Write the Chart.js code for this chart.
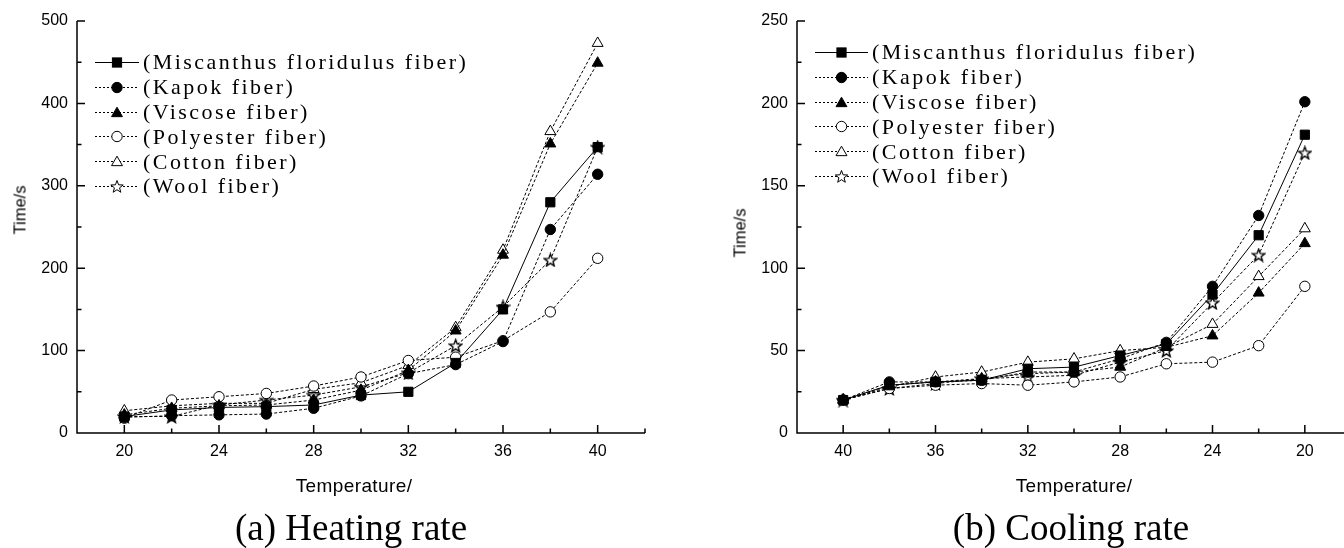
<!DOCTYPE html>
<html>
<head>
<meta charset="utf-8">
<script src="https://cdn.jsdelivr.net/npm/chart.js@4.4.1/dist/chart.umd.min.js"></script>
<style>
  body { margin: 0; background: #fff; }
  #page { position: relative; width: 1344px; height: 548px; overflow: hidden; background: #fff; }
  #page canvas { position: absolute; top: 0; }
  .ytitle { position: absolute; font: 16.5px "Liberation Sans", Arial, sans-serif; white-space: nowrap;
            transform: translate(-50%, -50%) rotate(-90deg); }
  .xtitle { position: absolute; font: 19px "Liberation Sans", Arial, sans-serif; letter-spacing: 0.4px; white-space: nowrap;
            transform: translate(-50%, -50%); }
  .caption { position: absolute; font: 37px "Liberation Serif", "Times New Roman", serif; white-space: nowrap;
             transform: translate(-50%, -50%); }
  .legend { position: absolute; font: 22px "Liberation Serif", serif; letter-spacing: 2.45px; }
  .legend .row { height: 24.8px; display: flex; align-items: center; white-space: nowrap; }
  .legend svg { flex: none; }
</style>
</head>
<body>
<div id="page">
  <canvas id="heatChart" width="680" height="548" style="left:0px"></canvas>
  <canvas id="coolChart" width="680" height="548" style="left:720px"></canvas>
  <div class="ytitle" style="left:20px; top:210px">Time/s</div>
  <div class="ytitle" style="left:740px; top:233px">Time/s</div>
  <div class="xtitle" style="left:354px; top:486px">Temperature/</div>
  <div class="xtitle" style="left:1074px; top:486px">Temperature/</div>
  <div class="caption" style="left:351px; top:527px">(a) Heating rate</div>
  <div class="caption" style="left:1071px; top:527px">(b) Cooling rate</div>
  <div class="legend" id="heatLegend" style="left:95px; top:50px"></div>
  <div class="legend" id="coolLegend" style="left:815px; top:40px"></div>
</div>
<script>
// series names (legend order)
const seriesNames = [
  "(Miscanthus floridulus fiber)",
  "(Kapok fiber)",
  "(Viscose fiber)",
  "(Polyester fiber)",
  "(Cotton fiber)",
  "(Wool fiber)"
];

// heating: temperature goes 20 -> 40
const heatTemps = [20, 22, 24, 26, 28, 30, 32, 34, 36, 38, 40];
const heatMiscanthus = [20, 28, 31, 32, 34, 46, 50, 85, 150, 280, 347];
const heatKapok = [19, 21, 22, 23, 30, 45, 72, 83, 111, 247, 314];
const heatViscose = [22, 30, 33, 34, 40, 52, 76, 124, 216, 351, 449];
const heatPolyester = [18, 40, 44, 48, 57, 68, 88, 92, 112, 147, 212];
const heatCotton = [27, 33, 36, 36, 53, 61, 82, 128, 222, 366, 473];
const heatWool = [20, 20, 34, 40, 46, 56, 73, 106, 153, 210, 347];

// cooling: temperature goes 40 -> 20
const coolTemps = [40, 38, 36, 34, 32, 30, 28, 26, 24, 22, 20];
const coolMiscanthus = [20, 29, 31, 32, 39, 40, 47, 54, 84, 120, 181];
const coolKapok = [20, 31, 31, 32, 37, 37, 45, 55, 89, 132, 201];
const coolViscose = [20, 29, 31, 33, 36, 37, 40, 52, 59, 85, 115];
const coolPolyester = [20, 27, 29, 30, 29, 31, 34, 42, 43, 53, 89];
const coolCotton = [20, 28, 34, 37, 43, 45, 50, 52, 66, 95, 124];
const coolWool = [20, 27, 30, 33, 34, 35, 43, 50, 79, 108, 170];

// axis ticks
const xLabels = [20, 24, 28, 32, 36, 40];
const xMinor = [22, 26, 30, 34, 38, 42];
const heatYLabels = [0, 100, 200, 300, 400, 500];
const heatYMinor = [50, 150, 250, 350, 450];
const coolYLabels = [0, 50, 100, 150, 200, 250];
const coolYMinor = [25, 75, 125, 175, 225];

// marker looks, one per series
const markerShapes = ["rect", "circle", "triangle", "circle", "triangle", "star"];
const markerFilled = [true, true, true, false, false, false];
const markerRadius = { rect: 6.5, circle: 5.2, triangle: 6.3, star: 7 };

// small 5 point star, Chart.js has no such point style
function makeStar(size) {
  const c = document.createElement("canvas");
  c.width = size; c.height = size;
  const g = c.getContext("2d");
  const cx = size / 2, cy = size / 2 + 0.6, ro = size / 2 - 1, ri = ro * 0.42;
  g.beginPath();
  for (let i = 0; i < 10; i++) {
    const r = i % 2 ? ri : ro;
    const a = -Math.PI / 2 + i * Math.PI / 5;
    g.lineTo(cx + r * Math.cos(a), cy + r * Math.sin(a));
  }
  g.closePath();
  g.fillStyle = "#fff"; g.fill();
  g.strokeStyle = "#000"; g.lineWidth = 1.4; g.stroke();
  return c;
}
const starImg = makeStar(15);

function buildDatasets(temps, seriesList) {
  return seriesList.map((vals, i) => {
    const shape = markerShapes[i];
    return {
      label: seriesNames[i],
      data: vals.map((v, k) => ({ x: temps[k], y: v })),
      borderColor: "#000",
      borderWidth: 1,
      borderDash: i === 0 ? [] : [3, 2],
      pointStyle: shape === "star" ? starImg : shape,
      pointRadius: markerRadius[shape],
      pointBackgroundColor: markerFilled[i] ? "#000" : "#fff",
      pointBorderColor: "#000",
      pointBorderWidth: 1,
      tension: 0,
      fill: false
    };
  });
}

// Origin style axes: L shaped, ticks pointing inward
const originAxes = {
  id: "originAxes",
  beforeDatasetsDraw(chart, args, opts) {
    const { ctx, chartArea: a, scales: { x, y } } = chart;
    ctx.save();
    ctx.strokeStyle = "#000";
    ctx.lineWidth = 1.5;
    ctx.beginPath();
    ctx.moveTo(a.left, a.top);
    ctx.lineTo(a.left, a.bottom);
    ctx.lineTo(a.right, a.bottom);
    opts.xMajor.forEach(v => { const p = x.getPixelForValue(v); ctx.moveTo(p, a.bottom); ctx.lineTo(p, a.bottom - 8); });
    opts.xMinor.forEach(v => { const p = x.getPixelForValue(v); ctx.moveTo(p, a.bottom); ctx.lineTo(p, a.bottom - 4.5); });
    opts.yMajor.forEach(v => { const p = y.getPixelForValue(v); ctx.moveTo(a.left, p); ctx.lineTo(a.left + 8, p); });
    opts.yMinor.forEach(v => { const p = y.getPixelForValue(v); ctx.moveTo(a.left, p); ctx.lineTo(a.left + 4.5, p); });
    ctx.stroke();
    ctx.restore();
  }
};

function makeChart(id, temps, seriesList, yLabels, yMinor, yMax, reverse, padRight) {
  return new Chart(document.getElementById(id), {
    type: "line",
    data: { datasets: buildDatasets(temps, seriesList) },
    plugins: [originAxes],
    options: {
      responsive: false,
      animation: false,
      devicePixelRatio: 1,
      layout: { padding: { top: 21, right: padRight, bottom: 0, left: 0 } },
      plugins: {
        legend: { display: false },
        tooltip: { enabled: false },
        originAxes: { xMajor: xLabels, xMinor: xMinor, yMajor: yLabels, yMinor: yMinor }
      },
      scales: {
        x: {
          type: "linear",
          min: 18,
          max: 42,
          reverse: reverse,
          afterBuildTicks: s => { s.ticks = xLabels.map(v => ({ value: v })); },
          afterFit: s => { s.height = 115; },
          grid: { display: false, drawTicks: false },
          border: { display: false },
          ticks: { color: "#000", padding: 9, font: { family: "Liberation Sans", size: 16 } }
        },
        y: {
          min: 0,
          max: yMax,
          afterBuildTicks: s => { s.ticks = yLabels.map(v => ({ value: v })); },
          afterFit: s => { s.width = 77; },
          grid: { display: false, drawTicks: false },
          border: { display: false },
          ticks: { color: "#000", padding: 9, font: { family: "Liberation Sans", size: 16 } }
        }
      }
    }
  });
}

makeChart("heatChart", heatTemps,
  [heatMiscanthus, heatKapok, heatViscose, heatPolyester, heatCotton, heatWool],
  heatYLabels, heatYMinor, 500, false, 35);
makeChart("coolChart", coolTemps,
  [coolMiscanthus, coolKapok, coolViscose, coolPolyester, coolCotton, coolWool],
  coolYLabels, coolYMinor, 250, true, 49);

// legend: line sample with marker, then the name as text
function markerSvg(i, cx) {
  const shape = markerShapes[i];
  const fill = markerFilled[i] ? "#000" : "#fff";
  const cy = 12.5;
  if (shape === "rect") return `<rect x="${cx - 4.6}" y="${cy - 4.6}" width="9.2" height="9.2" fill="${fill}" stroke="#000"/>`;
  if (shape === "circle") return `<circle cx="${cx}" cy="${cy}" r="5.2" fill="${fill}" stroke="#000"/>`;
  if (shape === "triangle") {
    const r = 6.3;
    const pts = [0, 1, 2].map(k => {
      const a = -Math.PI / 2 + k * 2 * Math.PI / 3;
      return (cx + r * Math.cos(a)).toFixed(2) + "," + (cy + 1 + r * Math.sin(a)).toFixed(2);
    }).join(" ");
    return `<polygon points="${pts}" fill="${fill}" stroke="#000"/>`;
  }
  const pts = [];
  for (let k = 0; k < 10; k++) {
    const r = k % 2 ? 2.7 : 6.5;
    const a = -Math.PI / 2 + k * Math.PI / 5;
    pts.push((cx + r * Math.cos(a)).toFixed(2) + "," + (cy + 0.5 + r * Math.sin(a)).toFixed(2));
  }
  return `<polygon points="${pts.join(" ")}" fill="#fff" stroke="#000"/>`;
}

function fillLegend(id, sampleLen) {
  const box = document.getElementById(id);
  const mid = sampleLen / 2;
  seriesNames.forEach((name, i) => {
    const row = document.createElement("div");
    row.className = "row";
    const dash = i === 0 ? "" : ' stroke-dasharray="2,2"';
    row.innerHTML = `<svg width="${sampleLen + 4}" height="25"><line x1="0" y1="12.5" x2="${sampleLen}" y2="12.5" stroke="#000" stroke-width="1"${dash}/>${markerSvg(i, mid)}</svg>`;
    const label = document.createElement("span");
    label.textContent = name;
    row.appendChild(label);
    box.appendChild(row);
  });
}
fillLegend("heatLegend", 44);
fillLegend("coolLegend", 53);
</script>
</body>
</html>
